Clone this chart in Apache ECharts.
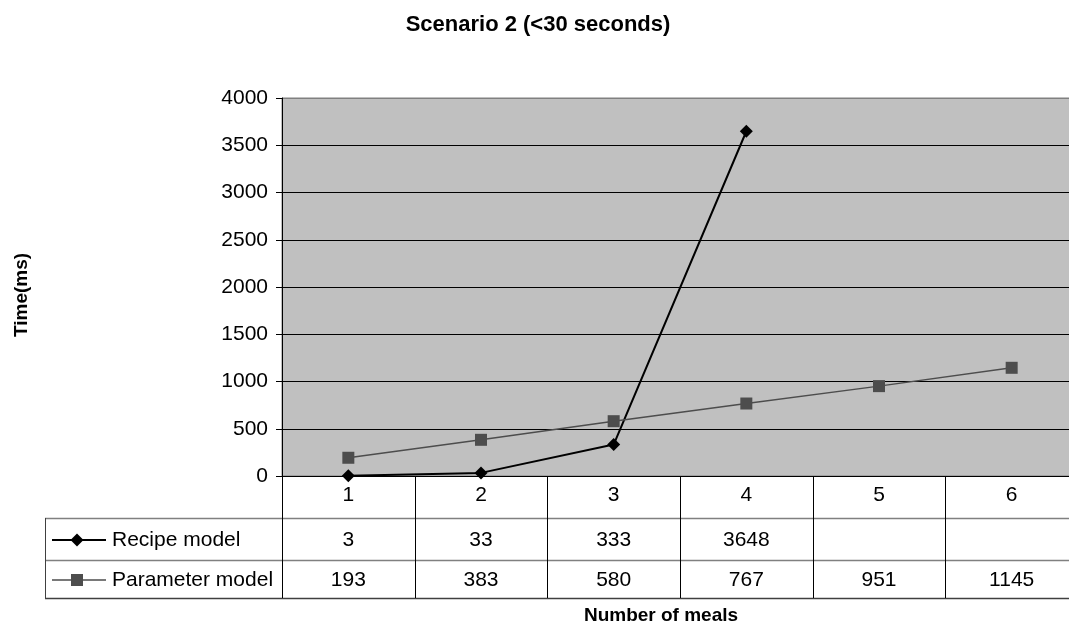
<!DOCTYPE html>
<html>
<head>
<meta charset="utf-8">
<script src="https://cdn.jsdelivr.net/npm/echarts@6/dist/echarts.min.js"></script>
<style>html,body{margin:0;padding:0;background:#fff}#c{width:1069px;height:630px}</style>
</head>
<body>
<div id="c"></div>
<script>
var categories = ['1', '2', '3', '4', '5', '6'];
var recipeValues = [3, 33, 333, 3648, null, null];
var parameterValues = [193, 383, 580, 767, 951, 1145];
var seriesNames = ['Recipe model', 'Parameter model'];
var titleText = 'Scenario 2 (<30 seconds)';
var yTitle = 'Time(ms)';
var xTitle = 'Number of meals';

var FONT = '"Liberation Sans", Arial, sans-serif';
var chart = echarts.init(document.getElementById('c'), null, {renderer: 'canvas'});
var gridColors = ['#000','#000','#000','#000','#000','#000','#000','#000','#808080'];
chart.setOption({
  animation: false,
  backgroundColor: '#fff',
  grid: {left: 282, top: 98, width: 796, height: 378, outerBoundsMode: 'none', containLabel: false,
         show: true, backgroundColor: '#c0c0c0', borderColor: '#808080', borderWidth: 1},
  xAxis: {
    type: 'category', data: categories, boundaryGap: true,
    axisLine: {show: true, lineStyle: {color: '#000', width: 1}},
    axisTick: {show: false}, axisLabel: {show: false}, splitLine: {show: false}
  },
  yAxis: {
    type: 'value', min: 0, max: 4000, interval: 500,
    axisLine: {show: true, lineStyle: {color: '#000', width: 1}},
    axisTick: {show: true, length: 6, lineStyle: {color: '#000'}},
    axisLabel: {color: '#000', fontSize: 21, fontFamily: FONT, margin: 14, formatter: function (v) { return String(v); }},
    splitLine: {show: true, lineStyle: {color: gridColors, width: 1}}
  },
  series: [
    {name: seriesNames[0], type: 'line', data: recipeValues, symbol: 'diamond', symbolSize: 13,
     lineStyle: {color: '#000', width: 2}, itemStyle: {color: '#000'}, connectNulls: false},
    {name: seriesNames[1], type: 'line', data: parameterValues, symbol: 'rect', symbolSize: 12,
     lineStyle: {color: '#4d4d4d', width: 1.5}, itemStyle: {color: '#4d4d4d'}}
  ]
});

function buildTable() {
  var els = [];
  var c0 = chart.convertToPixel({xAxisIndex: 0}, 0);
  var c1 = chart.convertToPixel({xAxisIndex: 0}, 1);
  var w = c1 - c0;
  var left = 45, plotLeft = c0 - w / 2;
  var y0 = 476, y1 = 518, y2 = 560, y3 = 598;
  var rowCenters = [540, 580];
  var rows = [recipeValues, parameterValues];
  [[y1, '#808080'], [y2, '#808080'], [y3, '#404040']].forEach(function (r) {
    els.push({type: 'line', shape: {x1: left, y1: r[0] + 0.5, x2: 1069, y2: r[0] + 0.5}, style: {stroke: r[1], lineWidth: 1.5}});
  });
  els.push({type: 'line', shape: {x1: left + 0.5, y1: y1, x2: left + 0.5, y2: y3}, style: {stroke: '#404040', lineWidth: 1}});
  for (var i = 0; i <= categories.length; i++) {
    var bx = Math.round(plotLeft + i * w) + 0.5;
    els.push({type: 'line', shape: {x1: bx, y1: y0, x2: bx, y2: y3}, style: {stroke: '#000', lineWidth: 1}});
  }
  categories.forEach(function (cat, i) {
    var cx = chart.convertToPixel({xAxisIndex: 0}, i);
    els.push({type: 'text', style: {text: cat, x: cx, y: 495, align: 'center', verticalAlign: 'middle', font: '21px ' + FONT, fill: '#000'}});
    rows.forEach(function (vals, r) {
      if (vals[i] != null) {
        els.push({type: 'text', style: {text: String(vals[i]), x: cx, y: rowCenters[r], align: 'center', verticalAlign: 'middle', font: '21px ' + FONT, fill: '#000'}});
      }
    });
  });
  var keyColors = ['#000', '#4d4d4d'];
  var keyWidths = [2, 1.5];
  rowCenters.forEach(function (yc, r) {
    els.push({type: 'line', shape: {x1: 52, y1: yc, x2: 106, y2: yc}, style: {stroke: keyColors[r], lineWidth: keyWidths[r]}});
    if (r === 0) {
      els.push({type: 'polygon', shape: {points: [[77, yc - 6.5], [83.5, yc], [77, yc + 6.5], [70.5, yc]]}, style: {fill: '#000'}});
    } else {
      els.push({type: 'rect', shape: {x: 71, y: yc - 6, width: 12, height: 12}, style: {fill: '#4d4d4d'}});
    }
    els.push({type: 'text', style: {text: seriesNames[r], x: 112, y: yc, align: 'left', verticalAlign: 'middle', font: '21px ' + FONT, fill: '#000'}});
  });
  els.push({type: 'text', style: {text: titleText, x: 538, y: 25, align: 'center', verticalAlign: 'middle', font: 'bold 22px ' + FONT, fill: '#000'}});
  els.push({type: 'text', style: {text: xTitle, x: 661, y: 616, align: 'center', verticalAlign: 'middle', font: 'bold 19px ' + FONT, fill: '#000'}});
  els.push({type: 'text', rotation: Math.PI / 2, x: 22, y: 295, style: {text: yTitle, x: 0, y: 0, align: 'center', verticalAlign: 'middle', font: 'bold 19px ' + FONT, fill: '#000'}});
  chart.setOption({graphic: {elements: els}});
}
buildTable();
</script>
</body>
</html>
